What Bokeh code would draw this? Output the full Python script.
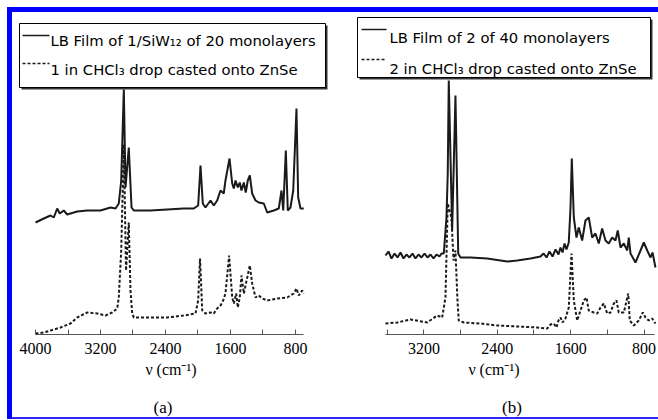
from bokeh.plotting import figure
from bokeh.models import Range1d, FixedTicker, BoxAnnotation, Label, Div
from bokeh.layouts import row, column
from bokeh.embed import file_html
from bokeh.resources import INLINE

# ---------------- data (wavenumber cm^-1, absorbance a.u.) ----------------
# Panel (a)
a_film_nu = [4000, 3898, 3815, 3775, 3733, 3701, 3652, 3610, 3487, 3364, 3200, 3077, 3015,
             2975, 2945, 2913, 2892, 2852, 2818, 2790, 2585, 2379, 2175, 2052, 1998, 1969,
             1941, 1908, 1846, 1806, 1764, 1723, 1683, 1662, 1612, 1579, 1559, 1538, 1510,
             1486, 1465, 1436, 1412, 1387, 1362, 1333, 1292, 1252, 1190, 1148, 1067, 1006,
             972, 951, 919, 895, 862, 828, 788, 767, 738, 698]
a_film_abs = [1.12, 1.16, 1.19, 1.17, 1.26, 1.21, 1.24, 1.20, 1.23, 1.24, 1.24, 1.27, 1.26,
              1.31, 1.54, 2.45, 1.47, 1.87, 1.27, 1.24, 1.24, 1.25, 1.26, 1.26, 1.29, 1.69,
              1.31, 1.27, 1.34, 1.29, 1.34, 1.44, 1.41, 1.54, 1.76, 1.51, 1.46, 1.54, 1.47,
              1.52, 1.44, 1.52, 1.42, 1.54, 1.59, 1.41, 1.34, 1.32, 1.31, 1.22, 1.24, 1.26,
              1.44, 1.24, 1.84, 1.24, 1.27, 1.44, 2.26, 1.37, 1.26, 1.26]

a_cast_nu = [4000, 3898, 3815, 3692, 3569, 3487, 3364, 3241, 3138, 3056, 2994, 2975, 2945,
             2913, 2886, 2852, 2831, 2810, 2790, 2585, 2379, 2175, 2031, 1998, 1975, 1948,
             1908, 1846, 1806, 1764, 1723, 1690, 1662, 1617, 1579, 1559, 1530, 1510, 1486,
             1465, 1436, 1415, 1362, 1333, 1292, 1252, 1210, 1148, 1025, 902, 821, 788, 760,
             718, 698]
a_cast_abs = [0.01, 0.02, 0.04, 0.07, 0.11, 0.17, 0.22, 0.21, 0.19, 0.22, 0.26, 0.37, 0.84,
              1.90, 0.64, 1.12, 0.44, 0.21, 0.17, 0.17, 0.17, 0.19, 0.21, 0.34, 0.76, 0.24,
              0.21, 0.22, 0.21, 0.26, 0.29, 0.34, 0.41, 0.79, 0.37, 0.31, 0.41, 0.27, 0.37,
              0.59, 0.41, 0.49, 0.69, 0.51, 0.37, 0.39, 0.36, 0.34, 0.36, 0.37, 0.41, 0.46,
              0.39, 0.44, 0.41]

# Panel (b)
b_film_nu = [3619, 3586, 3553, 3520, 3488, 3455, 3422, 3390, 3357, 3324, 3292, 3259, 3226,
             3193, 3161, 3128, 3095, 3063, 3030, 3008, 2983, 2954, 2940, 2929, 2892, 2856,
             2826, 2801, 2692, 2510, 2292, 2183, 2038, 1929, 1896, 1863, 1831, 1798, 1765,
             1733, 1711, 1689, 1667, 1646, 1621, 1602, 1588, 1566, 1537, 1512, 1475, 1439,
             1403, 1366, 1330, 1294, 1257, 1221, 1185, 1148, 1112, 1087, 1057, 1021, 984,
             967, 948, 894, 839, 803, 766, 730, 708, 676]
b_film_abs = [0.79, 0.83, 0.76, 0.81, 0.77, 0.82, 0.76, 0.80, 0.77, 0.81, 0.76, 0.80, 0.77,
              0.81, 0.77, 0.80, 0.76, 0.80, 0.78, 0.81, 0.81, 1.17, 1.61, 2.54, 1.04, 2.39,
              0.81, 0.77, 0.77, 0.76, 0.73, 0.74, 0.76, 0.78, 0.81, 0.77, 0.83, 0.78, 0.85,
              0.80, 0.87, 0.82, 0.91, 0.85, 0.92, 1.27, 1.76, 1.17, 0.97, 1.07, 0.94, 1.14,
              1.17, 0.97, 1.01, 0.91, 1.06, 0.94, 0.91, 0.97, 0.94, 1.04, 0.87, 0.91, 0.84,
              0.97, 0.81, 0.72, 0.84, 0.92, 0.84, 0.77, 0.82, 0.67]

b_cast_nu = [3619, 3491, 3346, 3164, 3055, 3001, 2965, 2940, 2900, 2877, 2856, 2834, 2820,
             2765, 2583, 2401, 2183, 1965, 1856, 1820, 1784, 1755, 1733, 1711, 1689, 1657,
             1621, 1591, 1566, 1529, 1493, 1457, 1428, 1403, 1348, 1311, 1275, 1239, 1202,
             1166, 1130, 1101, 1076, 1021, 973, 956, 912, 858, 814, 785, 749, 712, 676]
b_cast_abs = [0.11, 0.12, 0.15, 0.12, 0.19, 0.17, 0.37, 1.31, 1.17, 0.74, 0.84, 0.34, 0.14,
              0.12, 0.11, 0.09, 0.08, 0.07, 0.06, 0.10, 0.11, 0.07, 0.14, 0.17, 0.12, 0.16,
              0.27, 0.81, 0.34, 0.14, 0.24, 0.34, 0.37, 0.24, 0.22, 0.21, 0.27, 0.31, 0.21,
              0.22, 0.31, 0.34, 0.22, 0.22, 0.41, 0.14, 0.09, 0.14, 0.22, 0.17, 0.14, 0.16,
              0.11]

a_major_ticks = [4000, 3200, 2400, 1600, 800]
b_major_ticks = [3200, 2400, 1600, 800]
minor_ticks = [3600, 2800, 2000, 1200]

a_legend = ["LB Film of 1/SiW\u2081\u2082 of 20 monolayers",
            "1 in CHCl\u2083 drop casted onto ZnSe"]
b_legend = ["LB Film of 2 of 40 monolayers",
            "2 in CHCl\u2083 drop casted onto ZnSe"]
x_label = "\u03bd (cm\u207b\u00b9)"
panel_tags = ["(a)", "(b)"]

# ---------------- styling ----------------
INK = "#1a1a1a"
BLUE = "#0000ff"
SERIF = "Liberation Serif"
SANS = "DejaVu Sans"
FIG_H = 386
Y_TOP = 3.22
AXIS_PX = 322  # frame height in px


def make_panel(width, xr, bounds, majors, film_nu, film_abs, cast_nu, cast_abs,
               legend, leg):
    p = figure(width=width, height=FIG_H, x_range=Range1d(*xr), y_range=Range1d(0, Y_TOP),
               output_backend="svg", toolbar_location=None, y_axis_location=None,
               min_border_left=0, min_border_right=0, min_border_top=0,
               min_border_bottom=FIG_H - AXIS_PX, background_fill_color="white",
               border_fill_color="white", outline_line_color=None)
    p.grid.visible = False
    ax = p.xaxis[0]
    ax.bounds = bounds
    ax.ticker = FixedTicker(ticks=majors, minor_ticks=minor_ticks)
    ax.major_tick_in = 5
    ax.major_tick_out = 0
    ax.minor_tick_in = 5
    ax.minor_tick_out = 0
    ax.axis_line_color = "#555555"
    ax.major_tick_line_color = "#555555"
    ax.minor_tick_line_color = "#555555"
    ax.major_label_text_font = SERIF
    ax.major_label_text_font_size = "16px"
    ax.major_label_text_color = "black"
    ax.major_label_standoff = 8
    ax.axis_label = x_label
    ax.axis_label_text_font = SERIF
    ax.axis_label_text_font_size = "16px"
    ax.axis_label_text_font_style = "normal"
    ax.axis_label_text_color = "black"
    ax.axis_label_standoff = 4

    p.line(film_nu, film_abs, line_color=INK, line_width=2)
    p.line(cast_nu, cast_abs, line_color=INK, line_width=2, line_dash="3 2")

    # pixel -> data helpers (ranges are fixed, so this is an exact mapping)
    x0, x1 = xr

    def dx(px):
        return x0 + (x1 - x0) * px / width

    def dy(py):
        return Y_TOP * (1 - py / AXIS_PX)

    bx0, by0, bx1, by1 = leg["box"]
    p.add_layout(BoxAnnotation(left=dx(bx0 + 2), right=dx(bx1 + 2), top=dy(by0 + 2),
                               bottom=dy(by1 + 2), fill_color="#333333", fill_alpha=1,
                               line_color=None))
    p.add_layout(BoxAnnotation(left=dx(bx0), right=dx(bx1), top=dy(by0), bottom=dy(by1),
                               fill_color="white", fill_alpha=1, line_color="black",
                               line_width=1, line_alpha=1))
    sx0, sx1 = leg["sample"]
    for i, (sy, base, dash) in enumerate(zip(leg["sy"], leg["base"], ["solid", "3 2"])):
        p.segment(x0=[dx(sx0)], x1=[dx(sx1)], y0=[dy(sy)], y1=[dy(sy)], line_color=INK,
                  line_width=1.5, line_dash=dash, level="overlay")
        p.add_layout(Label(x=dx(leg["tx"]), y=dy(base), text=legend[i], text_font=SANS,
                           text_font_size="14.8px", text_color="black",
                           text_baseline="alphabetic", level="overlay"))
    return p


pa = make_panel(317, (4283.1, 381.5), (701, 4000), a_major_ticks, a_film_nu, a_film_abs,
                a_cast_nu, a_cast_abs, a_legend,
                dict(box=(7, 11, 313, 75), sample=(10, 37), sy=(23, 51), base=(27.5, 56.5),
                     tx=38))
pb = make_panel(329, (4228.9, 643.0), (690, 3618), b_major_ticks, b_film_nu, b_film_abs,
                b_cast_nu, b_cast_abs, b_legend,
                dict(box=(28, 5, 321, 65), sample=(32, 57), sy=(17, 47), base=(24.5, 55.5),
                     tx=60))


def block(w, h, color=None):
    st = {"background-color": color} if color else {}
    return Div(text="", width=w, height=h, margin=0, styles=st)


def tag(text):
    return Div(text=text, width=30, height=19, margin=0,
               styles={"font-family": SERIF, "font-size": "17px", "line-height": "20px",
                       "text-align": "center", "color": "black"})


tags_row = row(block(136, 19), tag(panel_tags[0]), block(319, 19), tag(panel_tags[1]),
               block(131, 19), spacing=0)

layout = column(
    block(658, 7),
    row(block(7, 412),
        block(5, 412, BLUE),
        column(block(646, 5, BLUE),
               row(pa, pb, spacing=0),
               tags_row,
               block(646, 2, "#2a2aff"), spacing=0), spacing=0),
    spacing=0,
)

html = file_html(layout, INLINE)
html = html.replace("<body>", '<body style="margin:0;padding:0;">', 1)
open("out.html", "w").write(html)
